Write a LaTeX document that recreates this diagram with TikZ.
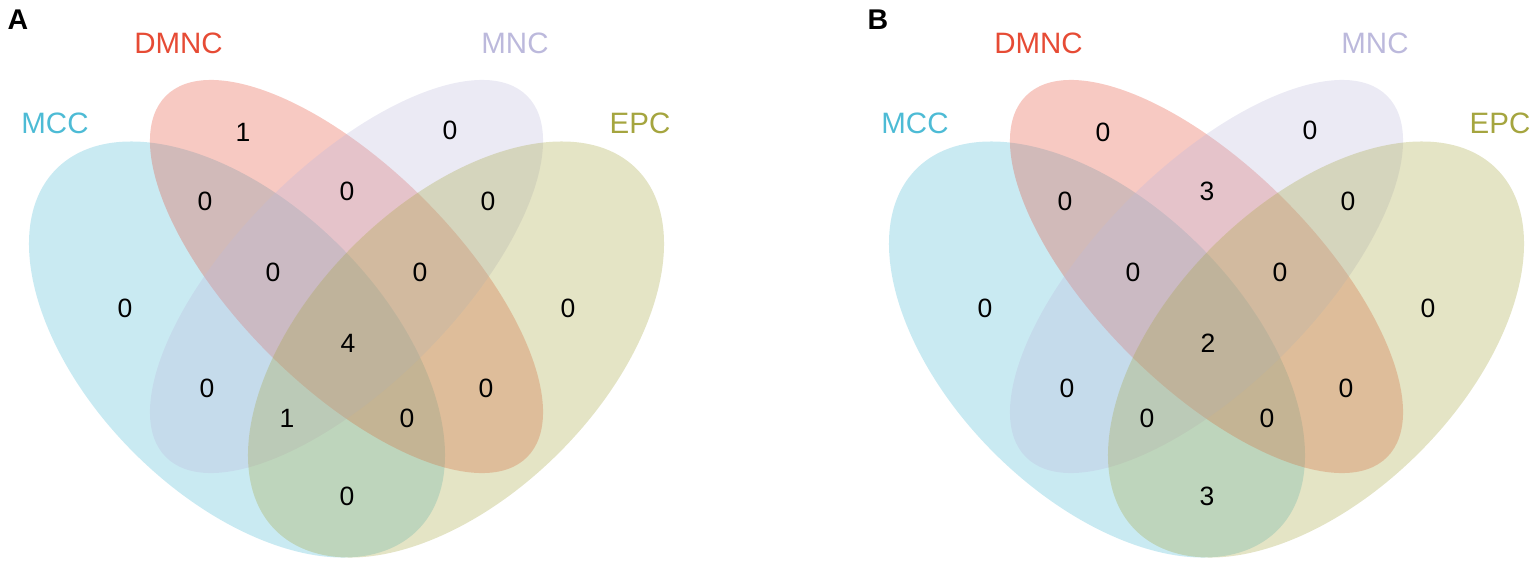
\documentclass[tikz,border=0pt]{standalone}
\usepackage{fontspec}
\setmainfont{Liberation Sans}
\definecolor{cMCC}{HTML}{4DBBD5}
\definecolor{cDMNC}{HTML}{E64B35}
\definecolor{cMNC}{HTML}{BCB9DC}
\definecolor{cEPC}{HTML}{A5A53F}
\tikzset{
  setfill/.style={fill=#1, fill opacity=0.3, draw=none},
  num/.style={font=\fontsize{26.5}{27}\selectfont, inner sep=0pt, text=black},
  setname/.style={font=\fontsize{29.5}{30}\selectfont, inner sep=0pt, text=#1},
  panellab/.style={font=\fontsize{28.5}{29}\selectfont\bfseries, inner sep=0pt, text=black},
}
\newcommand\VennSets{%
  \fill[setfill=cMCC, rotate around={-45:(237,349.5)}] (237,349.5) ellipse [x radius=255.4, y radius=145.9];
  \fill[setfill=cDMNC, rotate around={-45:(346.5,276.5)}] (346.5,276.5) ellipse [x radius=255.4, y radius=109.5];
  \fill[setfill=cMNC, rotate around={45:(346.5,276.5)}] (346.5,276.5) ellipse [x radius=255.4, y radius=109.5];
  \fill[setfill=cEPC, rotate around={45:(456,349.5)}] (456,349.5) ellipse [x radius=255.4, y radius=145.9];
}
\newcommand\VennNames[1]{%
  \node[setname=cDMNC] (#1dmnc) at (178.5,43) {DMNC};
  \node[setname=cMNC] (#1mnc) at (515,43) {MNC};
  \node[setname=cMCC] (#1mcc) at (55,123) {MCC};
  \node[setname=cEPC] (#1epc) at (640,123) {EPC};
}
\begin{document}
\begin{tikzpicture}[x=1pt, y=-1pt]
\useasboundingbox (0,0) rectangle (1535,566);
% ---------- Panel A ----------
\begin{scope}
  \VennSets
  \VennNames{a}
  \node[panellab] (alab) at (18,20) {A};
  \node[num] (a1)  at (243,132) {1};
  \node[num] (a2)  at (450,130) {0};
  \node[num] (a3)  at (205,201) {0};
  \node[num] (a4)  at (347,191) {0};
  \node[num] (a5)  at (488,201) {0};
  \node[num] (a6)  at (125,308) {0};
  \node[num] (a7)  at (273,272) {0};
  \node[num] (a8)  at (420,272) {0};
  \node[num] (a9)  at (568,308) {0};
  \node[num] (a10) at (348,343) {4};
  \node[num] (a11) at (207,388) {0};
  \node[num] (a12) at (287,418) {1};
  \node[num] (a13) at (407,418) {0};
  \node[num] (a14) at (486,388) {0};
  \node[num] (a15) at (347,496) {0};
\end{scope}
% ---------- Panel B ----------
\begin{scope}[shift={(860,0)}]
  \VennSets
  \VennNames{b}
  \node[panellab] (blab) at (18,20) {B};
  \node[num] (b1)  at (243,132) {0};
  \node[num] (b2)  at (450,130) {0};
  \node[num] (b3)  at (205,201) {0};
  \node[num] (b4)  at (347,191) {3};
  \node[num] (b5)  at (488,201) {0};
  \node[num] (b6)  at (125,308) {0};
  \node[num] (b7)  at (273,272) {0};
  \node[num] (b8)  at (420,272) {0};
  \node[num] (b9)  at (568,308) {0};
  \node[num] (b10) at (348,343) {2};
  \node[num] (b11) at (207,388) {0};
  \node[num] (b12) at (287,418) {0};
  \node[num] (b13) at (407,418) {0};
  \node[num] (b14) at (486,388) {0};
  \node[num] (b15) at (347,496) {3};
\end{scope}
\end{tikzpicture}
\end{document}
